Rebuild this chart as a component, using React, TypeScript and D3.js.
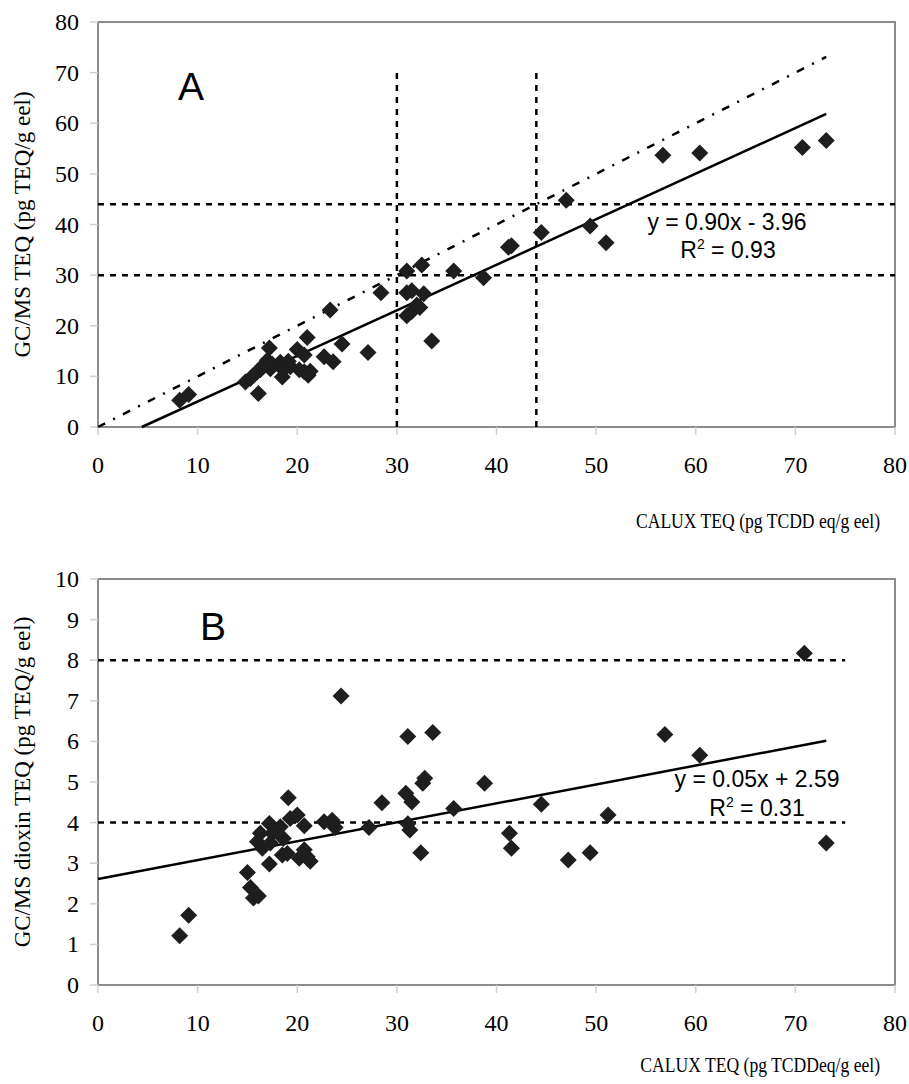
import React from "react";
import * as d3 from "d3";

// Panel A: CALUX TEQ vs GC/MS TEQ
const calluxA = [8.2, 9.1, 14.8, 15.3, 15.6, 16.0, 16.1, 16.3, 16.5, 17.0, 17.2, 17.3, 17.5, 18.3, 18.5, 18.6, 19.0, 19.1, 19.3, 20.0, 20.2, 20.7, 20.7, 21.0, 21.1, 21.3, 22.7, 23.3, 23.6, 24.5, 27.1, 28.4, 31.0, 31.0, 31.0, 31.5, 31.5, 32.0, 32.3, 32.5, 32.7, 33.5, 35.7, 38.7, 41.2, 41.5, 44.5, 47.0, 49.4, 51.0, 56.7, 60.4, 70.7, 73.1];
const gcmsA = [5.3, 6.4, 8.9, 9.6, 10.2, 10.9, 6.6, 11.3, 12.0, 13.2, 15.6, 11.5, 12.4, 12.8, 9.9, 11.3, 12.6, 13.0, 11.9, 15.3, 11.3, 14.2, 10.9, 17.7, 10.2, 11.0, 13.9, 23.1, 12.9, 16.4, 14.7, 26.5, 30.8, 26.5, 22.0, 26.9, 22.8, 24.1, 23.6, 32.0, 26.3, 17.0, 30.8, 29.5, 35.5, 35.8, 38.4, 44.8, 39.7, 36.4, 53.7, 54.1, 55.2, 56.6];

// Panel B: CALUX TEQ vs GC/MS dioxin TEQ
const calluxB = [8.2, 9.1, 15.0, 15.3, 15.6, 16.0, 16.1, 16.3, 16.5, 17.2, 17.2, 17.3, 17.5, 18.3, 18.5, 18.6, 19.0, 19.1, 19.3, 20.0, 20.2, 20.7, 20.7, 21.0, 21.3, 22.7, 23.5, 23.8, 24.4, 27.2, 28.5, 30.9, 31.1, 31.1, 31.3, 31.5, 32.4, 32.6, 32.8, 33.6, 35.7, 38.8, 41.3, 41.5, 44.5, 47.2, 49.4, 51.2, 56.9, 60.4, 70.9, 73.1];
const dioxinB = [1.21, 1.72, 2.77, 2.4, 2.14, 3.53, 2.19, 3.74, 3.37, 3.98, 2.98, 3.5, 3.74, 3.9, 3.2, 3.61, 3.24, 4.61, 4.1, 4.19, 3.12, 3.92, 3.33, 3.16, 3.05, 4.02, 4.06, 3.88, 7.12, 3.88, 4.49, 4.72, 6.12, 3.97, 3.82, 4.51, 3.26, 4.97, 5.09, 6.22, 4.35, 4.97, 3.74, 3.37, 4.45, 3.08, 3.26, 4.19, 6.17, 5.66, 8.17, 3.5];

const xTicks = [0, 10, 20, 30, 40, 50, 60, 70, 80];
const yTicksA = [0, 10, 20, 30, 40, 50, 60, 70, 80];
const yTicksB = [0, 1, 2, 3, 4, 5, 6, 7, 8, 9, 10];

// reference lines
const cutoffsA = [30, 44];
const cutoffsB = [4, 8];
const trendA = { slope: 0.9, intercept: -3.96, xEnd: 73.1 };
const trendB = { slope: 0.0466, intercept: 2.61, xEnd: 73.1 };

const W = 909;
const H = 1084;
const serif = "'Liberation Serif', 'Times New Roman', serif";
const sans = "'Liberation Sans', Arial, sans-serif";
const axisGray = "#8c8c8c";

const diamond = (r: number) => `M0,${-r}L${r},0L0,${r}L${-r},0Z`;

function Panel(props: any) {
  const { top, bottom, yMax, yTicks, xs, ys, letter, letterPos, yTitle, xTitle, xTitleY, children } = props;
  const x = d3.scaleLinear().domain([0, 80]).range([98, 895]);
  const y = d3.scaleLinear().domain([0, yMax]).range([bottom, top]);
  return (
    <g>
      <rect x={98} y={top} width={797} height={bottom - top} fill="none" stroke={axisGray} strokeWidth={2} />
      {xTicks.map((t) => (
        <g key={"xt" + t}>
          <line x1={x(t)} x2={x(t)} y1={bottom} y2={bottom + 8} stroke="#d0d0d0" strokeWidth={1.5} />
          <text x={x(t)} y={bottom + 46} textAnchor="middle" fontFamily={serif} fontSize={24}>{t}</text>
        </g>
      ))}
      {yTicks.map((t: number) => (
        <g key={"yt" + t}>
          <line x1={90} x2={98} y1={y(t)} y2={y(t)} stroke="#d0d0d0" strokeWidth={1.5} />
          <text x={79} y={y(t) + 8} textAnchor="end" fontFamily={serif} fontSize={24}>{t}</text>
        </g>
      ))}
      {children(x, y)}
      {xs.map((v: number, i: number) => (
        <path key={i} d={diamond(8.5)} transform={`translate(${x(v)},${y(ys[i])})`} fill="#1e1e1e" />
      ))}
      <text x={letterPos[0]} y={letterPos[1]} fontFamily={sans} fontSize={39}>{letter}</text>
      <text transform={`translate(30,${(top + bottom) / 2}) rotate(-90)`} textAnchor="middle" fontFamily={serif} fontSize={23}>{yTitle}</text>
      <text transform={`translate(880,${xTitleY}) scale(0.8,1)`} textAnchor="end" fontFamily={serif} fontSize={22}>{xTitle}</text>
    </g>
  );
}

export default function App() {
  const dash = { stroke: "#000", strokeWidth: 2.5, strokeDasharray: "6 6", fill: "none" };
  return (
    <svg width={W} height={H} style={{ position: "absolute", left: 0, top: 0, background: "#fff" }}>
      <Panel
        top={22} bottom={427} yMax={80} yTicks={yTicksA} xs={calluxA} ys={gcmsA}
        letter="A" letterPos={[178, 100]} yTitle="GC/MS TEQ (pg TEQ/g eel)"
        xTitle="CALUX TEQ (pg TCDD eq/g eel)" xTitleY={528}
      >
        {(x: any, y: any) => (
          <g>
            {cutoffsA.map((c) => (
              <line key={"h" + c} x1={x(0)} x2={x(80)} y1={y(c)} y2={y(c)} {...dash} />
            ))}
            {cutoffsA.map((c) => (
              <line key={"v" + c} x1={x(c)} x2={x(c)} y1={y(0)} y2={y(70)} {...dash} />
            ))}
            <line x1={x(0)} y1={y(0)} x2={x(trendA.xEnd)} y2={y(trendA.xEnd)} stroke="#000" strokeWidth={2.5} strokeDasharray="8 9 2 9" />
            <line
              x1={x(-trendA.intercept / trendA.slope)} y1={y(0)}
              x2={x(trendA.xEnd)} y2={y(trendA.slope * trendA.xEnd + trendA.intercept)}
              stroke="#000" strokeWidth={2.5}
            />
            <text x={727} y={230} textAnchor="middle" fontFamily={sans} fontSize={23}>y = 0.90x - 3.96</text>
            <text x={728} y={258} textAnchor="middle" fontFamily={sans} fontSize={23}>
              R<tspan fontSize={14} dy={-9}>2</tspan><tspan dy={9}> = 0.93</tspan>
            </text>
          </g>
        )}
      </Panel>
      <Panel
        top={579} bottom={985} yMax={10} yTicks={yTicksB} xs={calluxB} ys={dioxinB}
        letter="B" letterPos={[200, 640]} yTitle="GC/MS dioxin TEQ (pg TEQ/g eel)"
        xTitle="CALUX TEQ (pg TCDDeq/g eel)" xTitleY={1072}
      >
        {(x: any, y: any) => (
          <g>
            {cutoffsB.map((c) => (
              <line key={"h" + c} x1={x(0)} x2={x(75)} y1={y(c)} y2={y(c)} {...dash} />
            ))}
            <line
              x1={x(0)} y1={y(trendB.intercept)}
              x2={x(trendB.xEnd)} y2={y(trendB.slope * trendB.xEnd + trendB.intercept)}
              stroke="#000" strokeWidth={2.5}
            />
            <text x={757} y={787} textAnchor="middle" fontFamily={sans} fontSize={23}>y = 0.05x + 2.59</text>
            <text x={757} y={816} textAnchor="middle" fontFamily={sans} fontSize={23}>
              R<tspan fontSize={14} dy={-9}>2</tspan><tspan dy={9}> = 0.31</tspan>
            </text>
          </g>
        )}
      </Panel>
    </svg>
  );
}
